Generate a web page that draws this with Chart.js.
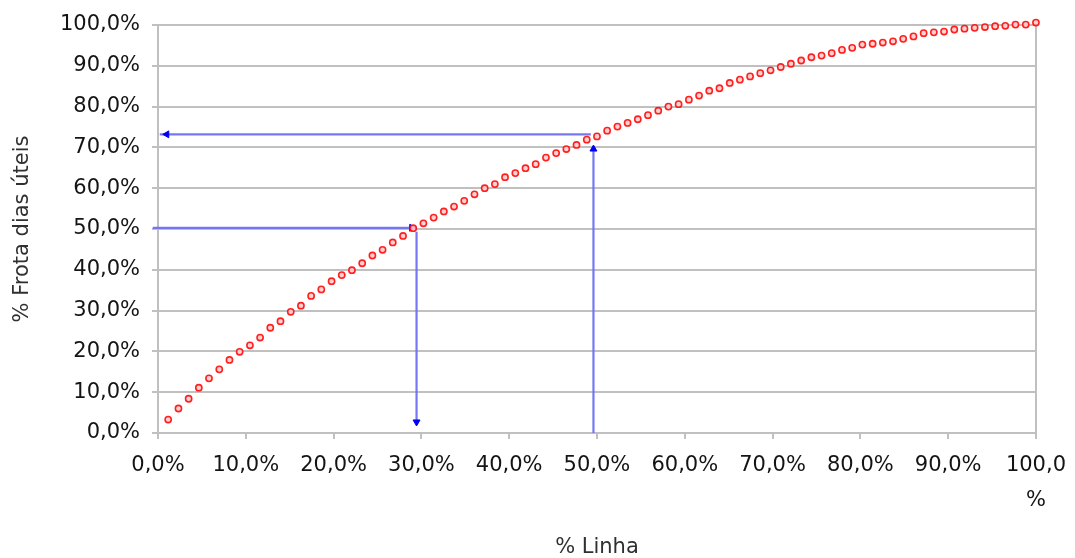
<!DOCTYPE html>
<html lang="pt">
<head>
<meta charset="utf-8">
<title>% Frota dias úteis × % Linha</title>
<script src="https://cdn.jsdelivr.net/npm/chart.js@4/dist/chart.umd.min.js"></script>
<style>
  html, body { margin: 0; padding: 0; background: #ffffff; }
  #wrap { width: 1075px; height: 558px; position: relative; }
</style>
</head>
<body>
<div id="wrap"><canvas id="chart" width="1075" height="558"></canvas></div>
<script>
// % Linha (x) for each point of the curve
const linhaPct = [
  1.16, 2.33, 3.49, 4.65, 5.81, 6.98, 8.14, 9.30, 10.47, 11.63,
  12.79, 13.95, 15.12, 16.28, 17.44, 18.60, 19.77, 20.93, 22.09, 23.26,
  24.42, 25.58, 26.74, 27.91, 29.07, 30.23, 31.40, 32.56, 33.72, 34.88,
  36.05, 37.21, 38.37, 39.53, 40.70, 41.86, 43.02, 44.19, 45.35, 46.51,
  47.67, 48.84, 50.00, 51.16, 52.33, 53.49, 54.65, 55.81, 56.98, 58.14,
  59.30, 60.47, 61.63, 62.79, 63.95, 65.12, 66.28, 67.44, 68.60, 69.77,
  70.93, 72.09, 73.26, 74.42, 75.58, 76.74, 77.91, 79.07, 80.23, 81.40,
  82.56, 83.72, 84.88, 86.05, 87.21, 88.37, 89.53, 90.70, 91.86, 93.02,
  94.19, 95.35, 96.51, 97.67, 98.84, 100.00
];

// % Frota dias úteis (y) for each point of the curve
const frotaPct = [
  3.3, 6.0, 8.4, 11.1, 13.4, 15.6, 17.9, 19.9, 21.5, 23.4,
  25.8, 27.4, 29.7, 31.2, 33.6, 35.2, 37.2, 38.7, 39.9, 41.6,
  43.5, 44.9, 46.7, 48.3, 50.2, 51.4, 52.8, 54.3, 55.5, 56.9,
  58.5, 60.0, 61.0, 62.7, 63.7, 64.9, 65.9, 67.5, 68.6, 69.6,
  70.6, 71.9, 72.7, 74.1, 75.1, 76.0, 76.9, 77.9, 79.0, 80.0,
  80.6, 81.7, 82.7, 83.9, 84.5, 85.8, 86.6, 87.4, 88.2, 88.9,
  89.7, 90.5, 91.3, 92.1, 92.5, 93.1, 93.9, 94.4, 95.2, 95.4,
  95.7, 96.0, 96.6, 97.2, 98.0, 98.2, 98.4, 98.9, 99.1, 99.3,
  99.5, 99.7, 99.8, 100.1, 100.1, 100.6
];

// Axis ticks (both axes run 0 % .. 100 % in steps of 10 %)
const tickValues = [0, 10, 20, 30, 40, 50, 60, 70, 80, 90, 100];

// Reading guides: 50 % of the fleet -> % of the line, and 50 % of the line -> % of the fleet
const guide50FrotaX = [-0.6, 28.9, 29.5];
const guide50FrotaY = [50.3, 50.3, 50.3];
const guide50DropX  = [29.45, 29.45];
const guide50DropY  = [49.3, 2.7];
const guide50LinhaX = [49.6, 49.6];
const guide50LinhaY = [0, 69.6];
const guide73FrotaX = [49.3, 1.0, 0.2];
const guide73FrotaY = [73.2, 73.2, 73.2];

const pts = (xs, ys) => xs.map((x, i) => ({ x, y: ys[i] }));
const fmtPct = v => v.toFixed(1).replace('.', ',') + '%';

const GRID = '#c0c0c0';
const TEXT = '#141414';
const GUIDE_LINE = 'rgba(112,112,242,0.95)';
const GUIDE_HEAD = '#0000f0';
const FONT = 'DejaVu Sans';

function guide(data, headIndex, headRotation) {
  return {
    type: 'scatter',
    data,
    showLine: true,
    borderColor: GUIDE_LINE,
    borderWidth: 2.2,
    backgroundColor: GUIDE_HEAD,
    pointBorderColor: GUIDE_HEAD,
    pointStyle: 'triangle',
    pointRotation: headRotation,
    pointRadius: data.map((_, i) => (i === headIndex ? 4 : 0)),
    pointBorderWidth: 1,
    clip: false,
    order: 2
  };
}

new Chart(document.getElementById('chart'), {
  type: 'scatter',
  data: {
    datasets: [
      {
        data: pts(linhaPct, frotaPct),
        showLine: false,
        pointStyle: 'circle',
        pointRadius: 3.1,
        pointBorderWidth: 1.6,
        borderColor: 'rgba(255,10,10,0.9)',
        backgroundColor: 'rgba(255,205,205,0.9)',
        clip: false,
        order: 1
      },
      guide(pts(guide50FrotaX, guide50FrotaY), 1, 90),
      guide(pts(guide50DropX, guide50DropY), 1, 180),
      guide(pts(guide50LinhaX, guide50LinhaY), 1, 0),
      guide(pts(guide73FrotaX, guide73FrotaY), 1, 270)
    ]
  },
  options: {
    responsive: false,
    animation: false,
    events: [],
    layout: { padding: { top: 25, right: 35, left: 0, bottom: 0 } },
    plugins: {
      legend: { display: false },
      tooltip: { enabled: false }
    },
    scales: {
      x: {
        type: 'linear',
        min: 0,
        max: 100,
        afterBuildTicks: s => { s.ticks = tickValues.map(v => ({ value: v })); },
        afterFit: s => { s.height = 125; },
        border: { display: true, color: GRID, width: 2 },
        grid: {
          drawOnChartArea: true,
          color: c => (c.tick && c.tick.value === 100 ? GRID : 'rgba(0,0,0,0)'),
          lineWidth: 2,
          tickColor: GRID,
          tickLength: 6
        },
        ticks: {
          autoSkip: false,
          maxRotation: 0,
          padding: 9,
          color: TEXT,
          font: { family: FONT, size: 21, lineHeight: 1.68 },
          callback: v => (v === 100 ? ['100,0', '%'] : fmtPct(v))
        },
        title: {
          display: true,
          text: '% Linha',
          color: '#303030',
          font: { family: FONT, size: 21, lineHeight: 1 },
          padding: { top: 0, bottom: 0 }
        }
      },
      y: {
        type: 'linear',
        min: 0,
        max: 100,
        afterBuildTicks: s => { s.ticks = tickValues.map(v => ({ value: v })); },
        afterFit: s => { s.width = 158; },
        border: { display: true, color: GRID, width: 2 },
        grid: {
          color: GRID,
          lineWidth: 2,
          tickColor: GRID,
          tickLength: 6
        },
        ticks: {
          padding: 12,
          color: TEXT,
          font: { family: FONT, size: 21 },
          callback: v => fmtPct(v)
        },
        title: {
          display: true,
          text: '% Frota dias úteis',
          color: '#303030',
          font: { family: FONT, size: 21, lineHeight: 1.2 },
          padding: { top: 10, bottom: 0 }
        }
      }
    }
  }
});
</script>
</body>
</html>
